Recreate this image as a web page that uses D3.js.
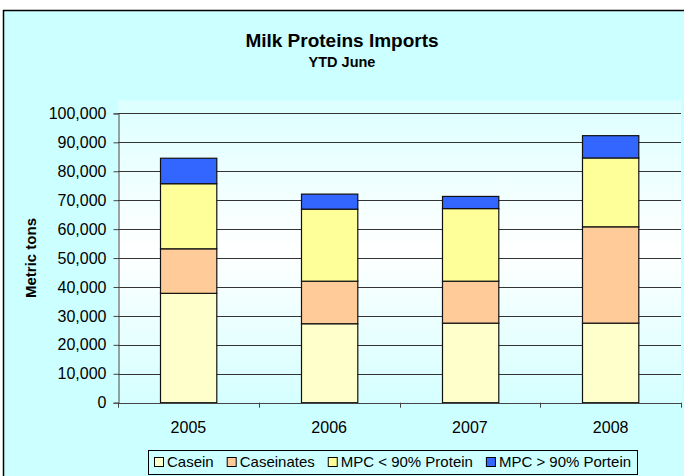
<!DOCTYPE html>
<html>
<head>
<meta charset="utf-8">
<script src="https://cdn.jsdelivr.net/npm/d3@7"></script>
<style>
html,body{margin:0;padding:0;background:#fff;}
svg{display:block;font-family:"Liberation Sans",Arial,sans-serif;}
</style>
</head>
<body>
<svg id="chart" width="684" height="476"></svg>
<script>
const years = ["2005","2006","2007","2008"];
const seriesNames = ["Casein","Caseinates","MPC < 90% Protein","MPC > 90% Portein"];
const casein = [37800, 27300, 27500, 27500];
const caseinates = [15400, 14700, 14500, 33300];
const mpcLow = [22500, 24900, 25100, 23800];
const mpcHigh = [8800, 5200, 4200, 7700];
const yTicks = [0,10000,20000,30000,40000,50000,60000,70000,80000,90000,100000];
const colors = ["#FFFFCC","#FFCC99","#FFFF99","#3366FF"];

const svg = d3.select("#chart");
const W = 684, H = 476;

// chart background
svg.append("rect").attr("x",3.5).attr("y",10.5).attr("width",W+10).attr("height",H+10)
  .attr("fill","#CCFFFF").attr("stroke","#000").attr("stroke-width",1.5);

const plot = {left:118, right:681, top:113.4, bottom:402.7};

// gradient plot bg
const defs = svg.append("defs");
const grad = defs.append("linearGradient").attr("id","pg").attr("x1",0).attr("y1",0).attr("x2",0).attr("y2",1);
grad.append("stop").attr("offset","0%").attr("stop-color","#DDFFFF");
grad.append("stop").attr("offset","50%").attr("stop-color","#FFFFFF");
grad.append("stop").attr("offset","100%").attr("stop-color","#D5FFFF");
svg.append("rect").attr("x",plot.left).attr("y",plot.top-13).attr("width",plot.right-plot.left)
  .attr("height",plot.bottom-plot.top+13).attr("fill","url(#pg)");

const x = d3.scaleBand().domain(years).range([plot.left,plot.right]).paddingInner(0.6).paddingOuter(0.3);
const xb = d3.scaleBand().domain(years).range([plot.left,plot.right]);
const y = d3.scaleLinear().domain([0,100000]).range([plot.bottom,plot.top]);

// gridlines
svg.append("g").selectAll("line").data(yTicks.filter(d=>d>0)).join("line")
  .attr("x1",plot.left).attr("x2",plot.right)
  .attr("y1",d=>Math.round(y(d))+0.5).attr("y2",d=>Math.round(y(d))+0.5)
  .attr("stroke","#333").attr("stroke-width",1);

// stacked data
const rows = years.map((yr,i)=>({year:yr, s0:casein[i], s1:caseinates[i], s2:mpcLow[i], s3:mpcHigh[i]}));
const stack = d3.stack().keys(["s0","s1","s2","s3"]);
const stacked = stack(rows);

svg.append("g").selectAll("g").data(stacked).join("g")
  .attr("fill",(d,i)=>colors[i])
  .selectAll("rect").data(d=>d).join("rect")
  .attr("x",d=>Math.round(x(d.data.year))+0.5)
  .attr("width",x.bandwidth())
  .attr("y",d=>y(d[1]))
  .attr("height",d=>y(d[0])-y(d[1]))
  .attr("stroke","#111").attr("stroke-width",1.2);

// y axis
const yAxis = d3.axisLeft(y).tickValues(yTicks).tickSize(5).tickPadding(7)
  .tickFormat(d3.format(","));
const gy = svg.append("g").attr("transform",`translate(${plot.left+0.5},0)`).call(yAxis);
gy.select(".domain").attr("stroke","#444");
gy.selectAll(".tick line").attr("stroke","#444");
gy.selectAll("text").attr("font-size",16).attr("fill","#000").attr("font-family","Liberation Sans, Arial, sans-serif");

// x axis
const gx = svg.append("g").attr("transform",`translate(0,${Math.round(plot.bottom)+0.5})`)
  .call(d3.axisBottom(x).tickSize(0).tickPadding(18));
gx.select(".domain").remove();
gx.selectAll("text").attr("font-size",16).attr("fill","#000").attr("font-family","Liberation Sans, Arial, sans-serif");
svg.append("line").attr("x1",plot.left).attr("x2",plot.right)
  .attr("y1",Math.round(plot.bottom)+0.5).attr("y2",Math.round(plot.bottom)+0.5).attr("stroke","#444");
// category separator ticks
const sepTicks = years.map(d=>xb(d)+xb.bandwidth()).concat([plot.left]);
svg.append("g").selectAll("line").data(sepTicks).join("line")
  .attr("x1",d=>Math.round(d)+0.5).attr("x2",d=>Math.round(d)+0.5)
  .attr("y1",plot.bottom).attr("y2",plot.bottom+5).attr("stroke","#444");

// titles
svg.append("text").attr("x",342).attr("y",47).attr("text-anchor","middle")
  .attr("font-size",19).attr("font-weight","bold").text("Milk Proteins Imports");
svg.append("text").attr("x",342).attr("y",67).attr("text-anchor","middle")
  .attr("font-size",14.5).attr("font-weight","bold").text("YTD June");
svg.append("text").attr("transform","translate(36,258) rotate(-90)").attr("text-anchor","middle")
  .attr("font-size",15).attr("font-weight","bold").text("Metric tons");

// legend
const boxL = 148, boxR = 637;
svg.append("rect").attr("x",boxL+0.5).attr("y",450.5).attr("width",boxR-boxL).attr("height",24)
  .attr("fill","#CCFFFF").attr("stroke","#000").attr("stroke-width",1);
const lg = svg.append("g");
const items = lg.selectAll("g").data(seriesNames).join("g");
items.append("rect").attr("x",0.5).attr("y",0.5).attr("width",9).attr("height",9).attr("fill",(d,i)=>colors[i])
  .attr("stroke","#000").attr("stroke-width",1);
items.append("text").attr("x",13).attr("y",10).attr("font-size",15).text(d=>d);
let cx = 0;
const gap = 13;
items.each(function(d,i){
  const w = this.querySelector("text").getComputedTextLength();
  d3.select(this).attr("transform",`translate(${cx},0)`);
  cx += 13 + w + gap;
});
const totalW = cx - gap;
const startX = Math.round((boxL+boxR)/2 - totalW/2);
lg.attr("transform",`translate(${startX},${457})`);
</script>
</body>
</html>
